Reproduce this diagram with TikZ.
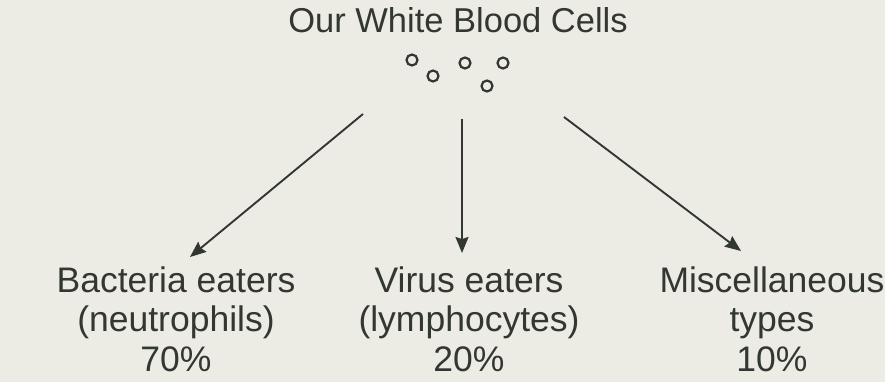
\documentclass[tikz,border=0pt]{standalone}
\usepackage{fontspec}
\setmainfont{Liberation Sans}
\usetikzlibrary{arrows.meta,positioning}
\definecolor{inkgray}{RGB}{50,55,48}
\definecolor{paper}{RGB}{237,236,228}

\begin{document}
\begin{tikzpicture}[
    x=1pt, y=-1pt,
    label text/.style={text=inkgray, align=center, anchor=base,
        font=\fontsize{35.5}{39.5}\selectfont},
    cell/.style={circle, draw=inkgray, line width=2.2pt, inner sep=0pt,
        minimum size=11pt},
    branch/.style={draw=inkgray, line width=1.9pt,
        -{Stealth[length=16pt,width=13pt,inset=2pt]}}
]
    \fill[paper] (0,0) rectangle (885,382);
    \useasboundingbox (0,0) rectangle (885,382);

    % title and the little cells
    \node[label text, font=\fontsize{34.5}{38}\selectfont] (title) at (458,33) {Our White Blood Cells};
    \node[cell] (c1) at (412,60) {};
    \node[cell] (c2) at (433,76) {};
    \node[cell] (c3) at (465,63) {};
    \node[cell] (c4) at (487,86) {};
    \node[cell] (c5) at (503,63) {};

    % the three kinds (base = last line)
    \node[label text] (bact) at (176,371) {Bacteria eaters\\(neutrophils)\\70\%};
    \node[label text] (virus) at (469,371) {Virus eaters\\(lymphocytes)\\20\%};
    \node[label text] (misc) at (772,371) {Miscellaneous\\types\\10\%};

    \coordinate (fromL) at (363,114);
    \coordinate (fromM) at (462,119);
    \coordinate (fromR) at (564,117);
    \coordinate (toL) at (190,257);
    \coordinate (toM) at (462,253);
    \coordinate (toR) at (741,251);

    \draw[branch] (fromL) -- (toL);
    \draw[branch] (fromM) -- (toM);
    \draw[branch] (fromR) -- (toR);
\end{tikzpicture}
\end{document}
